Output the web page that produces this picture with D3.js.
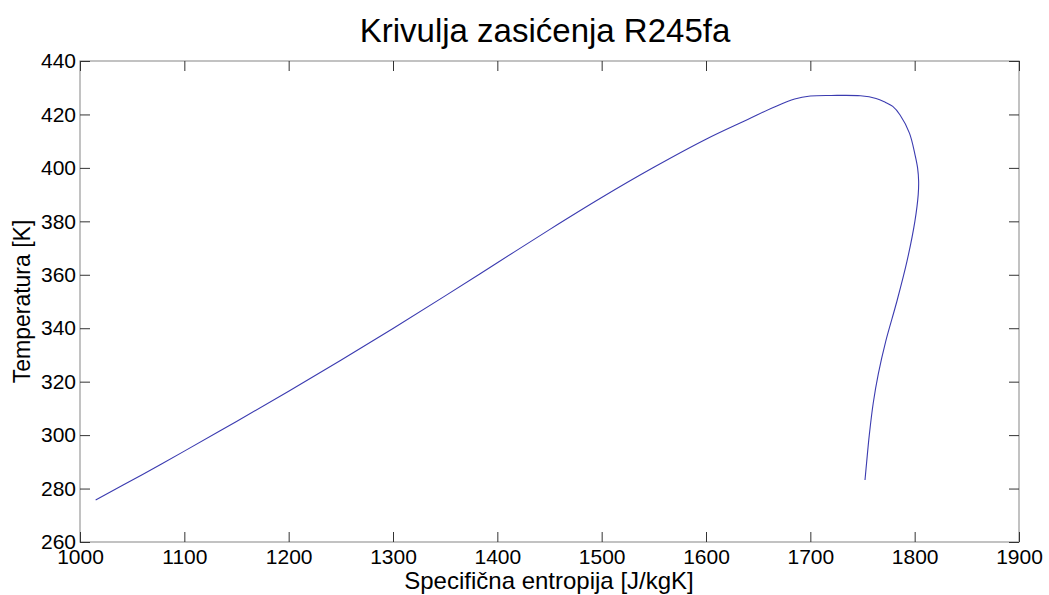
<!DOCTYPE html>
<html>
<head>
<meta charset="utf-8">
<script src="https://cdn.jsdelivr.net/npm/d3@7"></script>
<style>
  body { margin: 0; background: #fff; }
  text { font-family: 'Liberation Sans', Arial, sans-serif; fill: #000; }
</style>
</head>
<body>
<div id="chart"></div>
<script>
// saturation curve, liquid side then vapour side (s [J/kgK], T [K])
const liquidS = [1015, 1060, 1100, 1150, 1200, 1250, 1300, 1350, 1400, 1450, 1500, 1550, 1600, 1640, 1665, 1685, 1700, 1720, 1748]
const liquidT = [275.7, 285.3, 294, 305.1, 316.4, 328, 339.9, 352.1, 364.5, 376.9, 388.9, 400.2, 410.7, 418.1, 422.7, 425.8, 426.9, 427.1, 427]
const vapourS = [1748, 1763, 1772, 1779, 1786, 1795, 1800.3, 1802.8, 1803.8, 1803.4, 1800.2, 1792.6, 1782.9, 1772.2, 1765.2, 1760.3, 1756.5, 1754, 1752.4]
const vapourT = [427, 426, 424.5, 423, 419.8, 413, 405, 400, 395, 390, 380, 365, 350, 335, 323, 312, 300, 290, 283.2]
const xTicks = [1000, 1100, 1200, 1300, 1400, 1500, 1600, 1700, 1800, 1900]
const yTicks = [260, 280, 300, 320, 340, 360, 380, 400, 420, 440]

const W = 1049, H = 595
const margin = { top: 61, left: 80, right: 30, bottom: 53 }
const width = W - margin.left - margin.right
const height = H - margin.top - margin.bottom

const svg = d3.select('#chart').append('svg')
  .attr('width', W).attr('height', H)

const g = svg.append('g')
  .attr('transform', 'translate(' + margin.left + ',' + margin.top + ')')

const x = d3.scaleLinear().domain([1000, 1900]).range([0, width])
const y = d3.scaleLinear().domain([260, 440]).range([height, 0])

const points = liquidS.map((s, i) => [s, liquidT[i]])
  .concat(vapourS.slice(1).map((s, i) => [s, vapourT[i + 1]]))

const line = d3.line()
  .x(d => x(d[0]))
  .y(d => y(d[1]))
  .curve(d3.curveCatmullRom.alpha(0.5))

// frame
g.append('rect')
  .attr('width', width).attr('height', height)
  .attr('fill', 'none').attr('stroke', '#9a9a9a').attr('stroke-width', 1.2)

// axes, ticks point inwards like matlab
const styleAxis = sel => {
  sel.select('.domain').remove()
  sel.selectAll('.tick line').attr('stroke', '#333')
  sel.selectAll('.tick text').attr('font-size', 21).attr('fill', '#000')
}

g.append('g')
  .attr('transform', 'translate(0,' + height + ')')
  .call(d3.axisBottom(x).tickValues(xTicks).tickSizeInner(-10).tickPadding(7).tickFormat(d3.format('d')))
  .call(styleAxis)
g.append('g')
  .call(d3.axisTop(x).tickValues(xTicks).tickSizeInner(-10).tickFormat(''))
  .call(styleAxis)
g.append('g')
  .call(d3.axisLeft(y).tickValues(yTicks).tickSizeInner(-10).tickPadding(4).tickFormat(d3.format('d')))
  .call(styleAxis)
g.append('g')
  .attr('transform', 'translate(' + width + ',0)')
  .call(d3.axisRight(y).tickValues(yTicks).tickSizeInner(-10).tickFormat(''))
  .call(styleAxis)

g.append('path')
  .datum(points)
  .attr('d', line)
  .attr('fill', 'none')
  .attr('stroke', '#3b3bb0')
  .attr('stroke-width', 1.1)

svg.append('text')
  .attr('x', 545).attr('y', 42)
  .attr('text-anchor', 'middle')
  .attr('font-size', 33)
  .text('Krivulja zasićenja R245fa')

svg.append('text')
  .attr('x', 549).attr('y', 589)
  .attr('text-anchor', 'middle')
  .attr('font-size', 24)
  .text('Specifična entropija [J/kgK]')

svg.append('text')
  .attr('transform', 'translate(30,' + (margin.top + height / 2) + ') rotate(-90)')
  .attr('text-anchor', 'middle')
  .attr('font-size', 23)
  .text('Temperatura [K]')
</script>
</body>
</html>
